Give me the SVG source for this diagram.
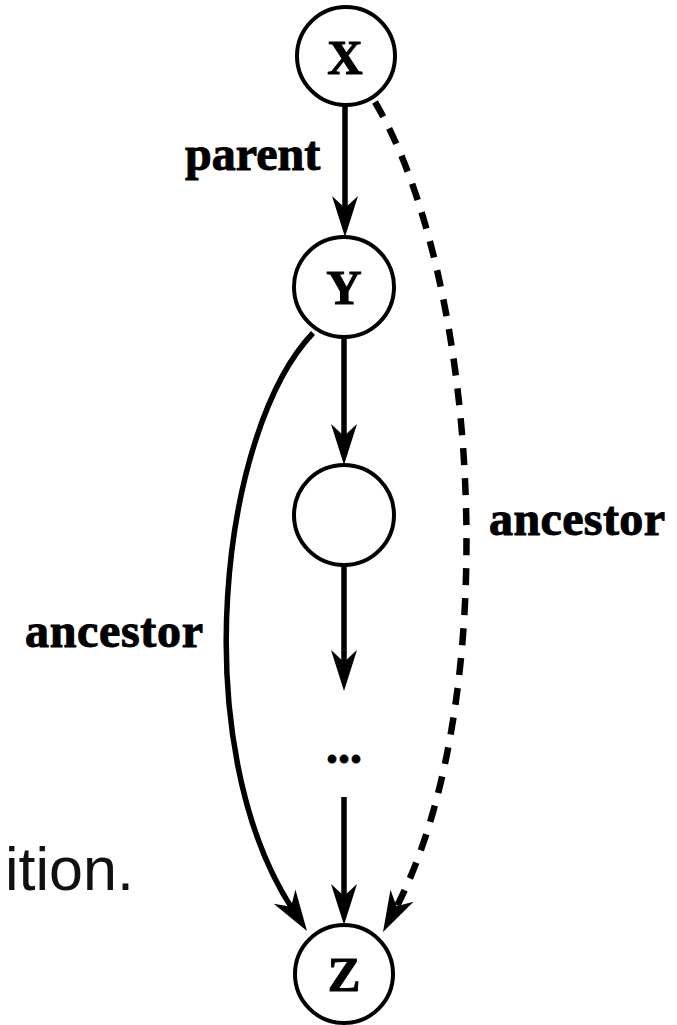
<svg xmlns="http://www.w3.org/2000/svg" width="677" height="1025" viewBox="0 0 677 1025">
<style>
.node{fill:#fff;stroke:#000;stroke-width:4}
.nt{font-family:"Liberation Serif","Times New Roman",serif;font-weight:bold;font-size:49px;text-anchor:middle;fill:#000;stroke:#000;stroke-width:1}
.lbl{font-family:"Liberation Serif","Times New Roman",serif;font-weight:bold;font-size:48px;fill:#000;stroke:#000;stroke-width:1}
.edge{fill:none;stroke:#000;stroke-width:5.5}
.dash{stroke-dasharray:17 13;stroke-width:6.5}
.ah{fill:#000}
</style>
<defs>
<path id="ah" d="M0,0 L-41,-13 L-29,0 L-41,13 Z"/>
</defs>
<rect width="677" height="1025" fill="#fff"/>
<g id="connectors">
<line class="edge" x1="345" y1="106" x2="345" y2="214"/>
<use href="#ah" class="ah" transform="translate(345,237) rotate(90)"/>
<line class="edge" x1="344" y1="337" x2="344" y2="442"/>
<use href="#ah" class="ah" transform="translate(344,465) rotate(90)"/>
<line class="edge" x1="344" y1="565" x2="344" y2="668"/>
<use href="#ah" class="ah" transform="translate(344,691) rotate(90)"/>
<line class="edge" x1="344" y1="797" x2="344" y2="902"/>
<use href="#ah" class="ah" transform="translate(344,925) rotate(90)"/>
<path class="edge" d="M313,333 C220,430 185,745 293,910"/>
<use href="#ah" class="ah" transform="translate(307,931) rotate(56.8)"/>
<path class="edge dash" d="M375,102 C480,280 505,700 395,910"/>
<use href="#ah" class="ah" transform="translate(383,932) rotate(117.6)"/>
</g>
<g id="node-X"><circle class="node" cx="346" cy="56" r="49"/><text class="nt" x="345" y="74">X</text></g>
<g id="node-Y"><circle class="node" cx="344" cy="287" r="50"/><text class="nt" x="344" y="304">Y</text></g>
<g id="node-M"><circle class="node" cx="344" cy="515" r="50"/></g>
<g id="node-dots"><text class="lbl" x="344" y="763" text-anchor="middle" font-size="58" stroke-width="1.5">...</text></g>
<g id="node-Z"><circle class="node" cx="344" cy="974" r="49"/><text class="nt" x="344" y="991">Z</text></g>
<g id="labels">
<text class="lbl" x="185" y="170">parent</text>
<text class="lbl" x="489" y="535" textLength="176">ancestor</text>
<text class="lbl" x="25" y="647" textLength="178">ancestor</text>
<text x="5" y="890" font-family="'Liberation Sans',Arial,sans-serif" font-size="61" fill="#111">ition.</text>
</g>
</svg>
